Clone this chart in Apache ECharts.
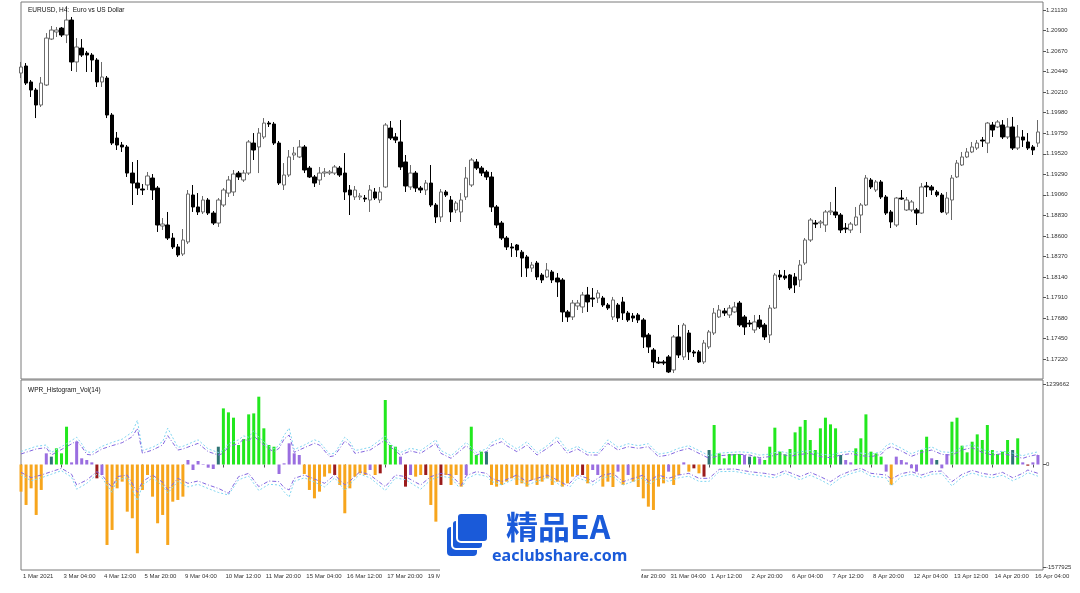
<!DOCTYPE html>
<html><head><meta charset="utf-8">
<script src="https://cdn.jsdelivr.net/npm/echarts@6/dist/echarts.min.js"></script>
<style>html,body{margin:0;padding:0;background:#fff}#c{width:1080px;height:593px}</style>
</head><body><div id="c"></div>
<script>
// ---------- DATA (EURUSD H4, first visible bar = 1 Mar 2021 20:00) ----------
const open = [
1.20424,1.20503,1.20324,1.20234,1.20066,1.2029,1.20805,1.20884,1.20928,1.2085,
1.21018,1.20548,1.20704,1.20648,1.20626,1.2057,1.20324,1.20368,1.19954,1.19696,
1.19618,1.19596,1.19304,1.19192,1.19125,1.1917,1.19248,1.19136,1.18711,1.18722,
1.18576,1.18476,1.18397,1.18532,1.19058,1.18924,1.18868,1.19002,1.18856,1.18744,
1.18946,1.1908,1.19092,1.19304,1.19226,1.19304,1.1964,1.19596,1.19708,1.19864,
1.19853,1.1964,1.1917,1.19282,1.19506,1.19484,1.19596,1.1936,1.1926,1.19226,
1.19304,1.19304,1.19304,1.1936,1.19304,1.19114,1.19036,1.19036,1.19024,1.19002,
1.19092,1.19002,1.19148,1.19808,1.19708,1.19652,1.19428,1.19148,1.19304,1.19136,
1.19114,1.19192,1.18946,1.18812,1.19092,1.19002,1.1889,1.18868,1.19036,1.1917,
1.19428,1.1936,1.19316,1.1926,1.18924,1.18744,1.18576,1.18476,1.18498,1.18418,
1.18364,1.1824,1.18296,1.18162,1.1814,1.18196,1.18128,1.18106,1.17748,1.17692,
1.17815,1.17804,1.17938,1.17904,1.17904,1.17904,1.17826,1.17692,1.17826,1.1786,
1.17736,1.17703,1.17714,1.17658,1.1749,1.17322,1.17188,1.17188,1.17244,1.17098,
1.17468,1.17244,1.17512,1.173,1.173,1.17188,1.17356,1.17512,1.17692,1.17759,
1.17714,1.17748,1.17848,1.17692,1.17624,1.17546,1.17658,1.17602,1.1749,1.17792,
1.18162,1.18151,1.18162,1.1814,1.18106,1.18296,1.18554,1.18744,1.18744,1.18722,
1.18868,1.18868,1.18834,1.18688,1.18666,1.18722,1.18834,1.18946,1.19226,1.19114,
1.19204,1.19036,1.18868,1.18722,1.19024,1.1889,1.1889,1.1889,1.18856,1.19159,
1.19148,1.19092,1.19058,1.18856,1.19002,1.1926,1.19394,1.19484,1.1954,1.19584,
1.19674,1.1964,1.19842,1.1982,1.19842,1.19708,1.1982,1.19584,1.19708,1.19652,
1.19596,1.1964];
const close = [
1.20492,1.20312,1.20234,1.20066,1.20312,1.20816,1.20906,1.20906,1.2085,1.21018,
1.20548,1.20716,1.20626,1.20626,1.2057,1.20324,1.2038,1.19954,1.1964,1.19618,
1.19596,1.19304,1.19192,1.19136,1.19114,1.19271,1.19114,1.18722,1.18733,1.18576,
1.18476,1.18386,1.18554,1.19069,1.18924,1.18868,1.19002,1.18856,1.18744,1.19002,
1.19114,1.19226,1.19293,1.1926,1.19304,1.19652,1.19562,1.19752,1.19864,1.19853,
1.1964,1.19192,1.19282,1.19484,1.19528,1.19596,1.19338,1.1926,1.19192,1.19304,
1.19316,1.19316,1.19372,1.19282,1.19092,1.19058,1.19114,1.19047,1.19013,1.19114,
1.19024,1.19092,1.19842,1.19696,1.19674,1.19372,1.19159,1.19304,1.19136,1.19114,
1.19192,1.18946,1.18812,1.19092,1.19058,1.18868,1.18968,1.19002,1.19248,1.1945,
1.1936,1.19304,1.1926,1.18924,1.18722,1.18576,1.18476,1.18464,1.18442,1.18352,
1.1824,1.18274,1.1814,1.18106,1.18218,1.18106,1.18084,1.17748,1.17692,1.17848,
1.17848,1.17938,1.1786,1.17893,1.1796,1.17826,1.17792,1.17882,1.1768,1.17736,
1.17658,1.1768,1.17658,1.17468,1.17356,1.17188,1.17176,1.17176,1.17076,1.17468,
1.17266,1.17602,1.173,1.17288,1.17188,1.174,1.17524,1.17736,1.1777,1.17736,
1.17792,1.17804,1.17602,1.1758,1.17613,1.17636,1.1758,1.17468,1.17792,1.18162,
1.1814,1.18128,1.18016,1.1805,1.18274,1.18554,1.18778,1.18733,1.18756,1.18868,
1.18879,1.18834,1.18666,1.18677,1.18733,1.18812,1.18946,1.19248,1.19148,1.19204,
1.19036,1.18856,1.18756,1.19024,1.19013,1.19002,1.1898,1.18856,1.19148,1.19148,
1.19114,1.19058,1.18868,1.19024,1.19248,1.19416,1.19484,1.1954,1.19596,1.1964,
1.19663,1.19864,1.19786,1.19876,1.19708,1.1982,1.19584,1.19708,1.19674,1.19584,
1.19562,1.19764];
const low = [
1.20368,1.2029,1.20156,1.1992,1.20044,1.20279,1.20794,1.20828,1.20828,1.2076,
1.20447,1.20436,1.20604,1.20436,1.20436,1.20268,1.20268,1.1992,1.19618,1.19562,
1.1954,1.1926,1.18946,1.19058,1.19058,1.19114,1.19002,1.18644,1.18666,1.18554,
1.18453,1.18364,1.18375,1.18509,1.18868,1.18834,1.18845,1.18834,1.18722,1.187,
1.18924,1.19036,1.19047,1.19226,1.19204,1.19282,1.1945,1.19304,1.19685,1.1982,
1.19618,1.1917,1.19114,1.1926,1.1945,1.19472,1.19304,1.19248,1.19148,1.1917,
1.1926,1.19282,1.19282,1.1926,1.19002,1.18834,1.19002,1.19002,1.1898,1.18868,
1.19002,1.18968,1.19136,1.19674,1.1964,1.19338,1.19092,1.19114,1.19092,1.1908,
1.19058,1.18924,1.18744,1.18756,1.19036,1.18756,1.18856,1.18756,1.19002,1.19148,
1.19338,1.19271,1.19226,1.18868,1.18688,1.18554,1.18442,1.18364,1.18364,1.1814,
1.1814,1.18196,1.18106,1.18072,1.18128,1.18072,1.17916,1.17636,1.17636,1.17658,
1.1777,1.17736,1.17748,1.17804,1.17848,1.17804,1.1777,1.17658,1.17636,1.17658,
1.17636,1.17636,1.17624,1.17344,1.17288,1.1712,1.17165,1.17154,1.17064,1.17064,
1.17232,1.1721,1.1721,1.17244,1.17176,1.17165,1.17333,1.1749,1.1768,1.17703,
1.1768,1.17736,1.1758,1.1749,1.1758,1.17512,1.17557,1.17434,1.174,1.17781,
1.18106,1.18106,1.17994,1.1796,1.18028,1.18274,1.18532,1.18688,1.18688,1.18644,
1.18834,1.188,1.18632,1.18632,1.18632,1.18711,1.18632,1.18935,1.19125,1.19092,
1.19013,1.18834,1.18688,1.187,1.19002,1.18879,1.18868,1.18722,1.18845,1.19036,
1.19058,1.19036,1.18856,1.18834,1.18778,1.19248,1.19383,1.19472,1.19528,1.19562,
1.19596,1.19528,1.19708,1.19808,1.19685,1.19685,1.19562,1.19562,1.19596,1.19562,
1.19506,1.19596];
const high = [
1.20548,1.20536,1.20346,1.20256,1.2038,1.20872,1.20951,1.2094,1.2094,1.21175,
1.21052,1.20816,1.20805,1.20671,1.20648,1.20592,1.20548,1.20391,1.19976,1.19764,
1.19652,1.19618,1.19428,1.1945,1.19181,1.19316,1.19293,1.19159,1.188,1.18868,
1.18632,1.18509,1.18677,1.19114,1.1917,1.1908,1.19047,1.19024,1.18879,1.19024,
1.19136,1.19271,1.19338,1.19327,1.19338,1.19674,1.19752,1.19808,1.1992,1.19887,
1.19876,1.19663,1.19416,1.19562,1.19596,1.19674,1.19618,1.19383,1.19282,1.19372,
1.1936,1.19338,1.19394,1.19383,1.19528,1.1917,1.19159,1.1908,1.19058,1.1917,
1.19136,1.19148,1.19864,1.19887,1.19752,1.19898,1.19506,1.19394,1.19327,1.19159,
1.19226,1.19394,1.18968,1.19125,1.19114,1.19047,1.18991,1.1908,1.19372,1.19472,
1.19461,1.19383,1.19338,1.19316,1.18946,1.18767,1.18599,1.1852,1.18509,1.18442,
1.18386,1.18308,1.18319,1.18184,1.18296,1.18218,1.18184,1.18128,1.1777,1.17882,
1.17882,1.17972,1.18028,1.18016,1.17994,1.17927,1.17848,1.17916,1.17848,1.17916,
1.17759,1.17736,1.17736,1.1768,1.17512,1.17344,1.17244,1.1721,1.17266,1.1749,
1.17602,1.17624,1.17546,1.17322,1.17322,1.17434,1.17546,1.17792,1.17826,1.17792,
1.17826,1.1786,1.17871,1.17714,1.17658,1.17714,1.17714,1.17624,1.17826,1.18184,
1.18218,1.18218,1.18173,1.18184,1.1833,1.18576,1.188,1.18778,1.18778,1.1889,
1.1898,1.19148,1.18856,1.18744,1.18756,1.18924,1.18968,1.19282,1.19248,1.19226,
1.19226,1.19058,1.1889,1.19036,1.19114,1.19036,1.19002,1.18912,1.19192,1.19204,
1.1917,1.19114,1.1908,1.19092,1.19282,1.1945,1.1954,1.19584,1.19652,1.19674,
1.19708,1.19876,1.19876,1.19898,1.19898,1.1992,1.19932,1.19842,1.19786,1.19752,
1.19618,1.19898];

// WPR histogram (values in thousands of volume units)
const wprHist = [
-418,-623,-367,-777,-392,172,121,249,172,582,
33,351,95,69,33,-213,-162,-1239,-1008,-367,
-264,-726,-828,-1367,-392,-162,-495,-905,-777,-1239,
-572,-546,-495,69,-85,54,-8,-49,-69,274,
864,803,721,300,392,772,787,1044,557,300,
274,-146,18,326,172,146,-146,-392,-521,-418,
-187,-136,-162,-315,-751,-367,-187,-136,-162,-85,
-162,-136,993,300,274,121,-341,-162,-187,-162,
-162,-623,-880,-315,-162,-315,-162,-341,-162,582,
146,198,198,-315,-341,-315,-264,-213,-315,-290,
-341,-239,-315,-264,-213,-315,-264,-341,-290,-187,
-162,-162,-290,-85,-162,-341,-264,-367,-110,-315,
-162,-264,-392,-521,-649,-700,-341,-290,-110,-315,
-162,33,-110,-59,-136,-187,223,608,172,95,
162,162,162,146,121,121,95,69,274,567,
198,156,239,495,582,685,377,223,557,721,
618,557,146,69,33,249,403,772,198,172,
121,-110,-315,121,69,33,-59,-110,223,428,
95,69,-59,156,659,721,290,187,351,464,
377,608,223,162,198,377,223,403,33,-18,
33,146];
// colour class of each histogram bar: g=green o=orange p=purple r=dark red t=teal
const wprClass = ("ooooo"+"ptggg"+"ppppp"+"rp"+"oooooooooooooooo"+"pppppp"+"t"+"ggggggggggg"+"ppppp"+"oooooo"+"r"+"oooooo"+"p"+"o"+"r"+"ggg"+"p"+"r"+"p"+"oo"+"r"+"oo"+"r"+"oooo"+"p"+"ggg"+"t"+"oooooooooooooooooo"+"r"+"o"+"pp"+"ooo"+"p"+"o"+"p"+"ooooooo"+"p"+"oo"+"p"+"o"+"r"+"o"+"r"+"t"+"gggggg"+"p"+"t"+"g"+"p"+"ggggggggggggggg"+"t"+"pp"+"gggggg"+"p"+"o"+"ppppp"+"gg"+"p"+"t"+"pp"+"gggggggggggg"+"t"+"g"+"p"+"r"+"pp").split('');

// band lines: [barIndex, value]
const upperPurple = [[0,162],[3,239],[5,259],[6,146],[9,274],[11,362],[12,274],[13,156],[14,146],[16,239],[18,290],[20,336],[22,428],[23,557],[24,172],[26,223],[28,300],[29,444],[31,223],[32,239],[35,326],[37,198],[39,146],[40,172],[41,274],[43,326],[44,387],[45,367],[46,439],[47,367],[49,239],[50,198],[51,249],[52,392],[53,454],[54,187],[56,259],[58,326],[59,300],[61,121],[62,136],[64,362],[65,300],[66,172],[67,187],[69,223],[71,326],[72,377],[73,274],[75,146],[77,208],[79,172],[82,326],[83,172],[85,95],[88,290],[90,146],[92,198],[93,290],[95,351],[96,290],[98,198],[100,300],[102,146],[104,249],[106,362],[108,172],[110,239],[112,146],[114,146],[116,326],[118,223],[120,274],[122,249],[124,274],[126,121],[128,146],[130,208],[132,249],[134,172],[136,95],[138,136],[140,146],[142,156],[144,146],[146,105],[148,121],[150,167],[152,126],[154,156],[156,172],[158,121],[160,105],[162,146],[164,167],[166,136],[168,121],[170,156],[171,239],[172,274],[174,208],[176,126],[178,187],[180,223],[182,156],[184,146],[186,223],[188,259],[190,187],[192,146],[194,167],[196,136],[198,95],[199,121],[201,156]];
const upperCyan = [[0,200],[3,280],[5,300],[6,185],[9,320],[11,420],[12,320],[13,195],[14,185],[16,280],[18,340],[20,390],[22,500],[23,680],[24,215],[26,265],[28,350],[29,560],[31,265],[32,280],[35,380],[37,240],[39,185],[40,215],[41,320],[43,380],[44,440],[45,420],[46,520],[47,420],[49,280],[50,240],[51,290],[52,450],[53,560],[54,230],[56,300],[58,380],[59,350],[61,160],[62,175],[64,420],[65,350],[66,215],[67,230],[69,265],[71,380],[72,440],[73,320],[75,185],[77,250],[79,215],[82,380],[83,215],[85,135],[88,340],[90,185],[92,240],[93,340],[95,410],[96,340],[98,240],[100,350],[102,185],[104,290],[106,430],[108,215],[110,280],[112,185],[114,185],[116,380],[118,265],[120,320],[122,290],[124,320],[126,160],[128,185],[130,250],[132,290],[134,215],[136,135],[138,175],[140,185],[142,195],[144,185],[146,145],[148,160],[150,205],[152,165],[154,195],[156,215],[158,160],[160,145],[162,185],[164,205],[166,175],[168,160],[170,195],[171,290],[172,330],[174,250],[176,165],[178,230],[180,270],[182,195],[184,185],[186,270],[188,305],[190,230],[192,185],[194,205],[196,175],[198,135],[199,160],[201,195]];
const lowerPurple = [[0,-121],[2,-203],[4,-162],[6,-110],[8,-59],[10,-151],[11,-315],[13,-239],[15,-110],[16,-162],[18,-356],[19,-187],[21,-162],[23,-428],[24,-264],[26,-162],[28,-274],[29,-392],[31,-213],[33,-290],[35,-254],[37,-315],[39,-367],[41,-444],[43,-187],[45,-136],[47,-341],[49,-254],[51,-264],[52,-356],[53,-392],[54,-213],[56,-162],[58,-223],[60,-290],[62,-162],[64,-315],[65,-254],[67,-110],[69,-162],[72,-341],[74,-162],[76,-187],[78,-274],[79,-315],[81,-187],[83,-136],[85,-162],[87,-326],[88,-172],[90,-110],[92,-136],[93,-213],[95,-264],[98,-162],[100,-264],[102,-213],[104,-162],[106,-239],[108,-326],[110,-162],[112,-213],[113,-264],[115,-162],[117,-136],[119,-264],[121,-213],[123,-162],[124,-264],[126,-162],[128,-213],[130,-162],[132,-136],[134,-213],[136,-213],[138,-74],[141,-69],[144,-110],[147,-136],[149,-162],[151,-95],[154,-187],[156,-121],[158,-187],[160,-264],[162,-162],[164,-100],[166,-59],[168,-136],[171,-162],[172,-223],[174,-141],[176,-110],[178,-162],[180,-110],[182,-100],[184,-264],[186,-151],[188,-90],[190,-136],[192,-162],[194,-121],[196,-203],[198,-136],[199,-85],[201,-136]];
const lowerCyan = [[0,-160],[2,-250],[4,-205],[6,-150],[8,-95],[10,-195],[11,-380],[13,-290],[15,-150],[16,-205],[18,-430],[19,-235],[21,-205],[23,-560],[24,-320],[26,-205],[28,-330],[29,-440],[31,-260],[33,-345],[35,-305],[37,-370],[39,-430],[41,-470],[43,-235],[45,-180],[47,-400],[49,-305],[51,-315],[52,-420],[53,-500],[54,-260],[56,-205],[58,-270],[60,-345],[62,-205],[64,-400],[65,-305],[67,-150],[69,-205],[72,-400],[74,-205],[76,-235],[78,-330],[79,-380],[81,-235],[83,-180],[85,-205],[87,-390],[88,-220],[90,-150],[92,-180],[93,-260],[95,-315],[98,-205],[100,-315],[102,-260],[104,-205],[106,-290],[108,-390],[110,-205],[112,-260],[113,-315],[115,-205],[117,-180],[119,-315],[121,-260],[123,-205],[124,-315],[126,-205],[128,-260],[130,-205],[132,-180],[134,-260],[136,-260],[138,-110],[141,-105],[144,-150],[147,-180],[149,-205],[151,-135],[154,-235],[156,-165],[158,-235],[160,-320],[162,-205],[164,-140],[166,-95],[168,-180],[171,-205],[172,-330],[174,-185],[176,-150],[178,-205],[180,-150],[182,-140],[184,-330],[186,-195],[188,-130],[190,-180],[192,-205],[194,-165],[196,-250],[198,-180],[199,-125],[201,-180]];

const priceTicks = [1.1722,1.1745,1.1768,1.1791,1.1814,1.1837,1.186,1.1883,1.1906,1.1929,1.1952,1.1975,1.1998,1.2021,1.2044,1.2067,1.209,1.2113];
const volTicks = [-1577.925, 0, 1239.662];
const xTickLabels = ["1 Mar 2021","3 Mar 04:00","4 Mar 12:00","5 Mar 20:00","9 Mar 04:00","10 Mar 12:00","11 Mar 20:00","15 Mar 04:00","16 Mar 12:00","17 Mar 20:00","19 Mar 04:00","22 Mar 12:00","23 Mar 20:00","25 Mar 04:00","26 Mar 12:00","29 Mar 20:00","31 Mar 04:00","1 Apr 12:00","2 Apr 20:00","6 Apr 04:00","7 Apr 12:00","8 Apr 20:00","12 Apr 04:00","13 Apr 12:00","14 Apr 20:00","16 Apr 04:00"];
const TICK_STEP = 8;

// ---------- categories: H4 bar times (weekdays only) ----------
const MON = ['Jan','Feb','Mar','Apr','May'];
function barTime(b){ const d=Math.floor(b/6), h=(b%6)*4; const cal=Math.floor(d/5)*7+d%5;
  const dt=new Date(Date.UTC(2021,2,1+cal)); return dt.getUTCDate()+' '+MON[dt.getUTCMonth()]+' '+String(h).padStart(2,'0')+':00'; }
const categories = []; for (let b=5;b<=207;b++) categories.push(barTime(b));

const classColor = {g:'#22e81e', o:'#f7a51c', p:'#9a6ee0', r:'#9b1b1b', t:'#2e7474'};
const candleData = open.map((o,i)=>[o, close[i], low[i], high[i]]);
const histData = wprHist.map((v,i)=>({value:v, itemStyle:{color:classColor[wprClass[i]]}}));

const FONT = 'Liberation Sans, Arial, sans-serif';
const chart = echarts.init(document.getElementById('c'), null, {renderer:'canvas'});
const bandLine = (data,color,type)=>({type:'line', xAxisIndex:1, yAxisIndex:1, data, symbol:'none', z:5,
  connectNulls:true, lineStyle:{color, width:1, type}, silent:true});

chart.setOption({
  animation:false,
  backgroundColor:'#ffffff',
  textStyle:{fontFamily:FONT},
  title:[
    {text:'EURUSD, H4:  Euro vs US Dollar', left:23, top:2, textStyle:{fontSize:6.5, fontWeight:'normal', color:'#111', fontFamily:FONT}},
    {text:'WPR_Histogram_Vol(14)', left:23, top:382, textStyle:{fontSize:6.5, fontWeight:'normal', color:'#111', fontFamily:FONT}}
  ],
  grid:[
    {left:21, right:37, top:2, height:377, show:true, borderColor:'#7a7a7a', borderWidth:1},
    {left:21, right:37, top:380, height:190, show:true, borderColor:'#7a7a7a', borderWidth:1}
  ],
  xAxis:[
    {type:'category', gridIndex:0, data:categories, boundaryGap:false,
     axisLine:{show:false}, axisTick:{show:false}, axisLabel:{show:false}, splitLine:{show:false}},
    {type:'category', gridIndex:1, data:categories, boundaryGap:false,
     axisLine:{show:false},
     axisTick:{show:true, interval:(i)=>i%TICK_STEP===0, length:3, lineStyle:{color:'#555'}},
     axisLabel:{interval:(i)=>i%TICK_STEP===0, formatter:(v,i)=>xTickLabels[i/TICK_STEP]||'',
       fontSize:6, color:'#333', align:'left', margin:3, padding:[0,0,0,2], fontFamily:FONT},
     splitLine:{show:false}}
  ],
  yAxis:[
    {type:'value', gridIndex:0, position:'right', min:1.16997, max:1.2122, scale:true,
     splitLine:{show:false}, axisLine:{show:false},
     axisTick:{show:true, customValues:priceTicks, length:3, lineStyle:{color:'#555'}},
     axisLabel:{customValues:priceTicks, formatter:(v)=>v.toFixed(5), fontSize:6, color:'#333', margin:3, fontFamily:FONT}},
    {type:'value', gridIndex:1, position:'right', min:-1624.4, max:1301.1,
     splitLine:{show:false}, axisLine:{show:false},
     axisTick:{show:true, customValues:volTicks, length:3, lineStyle:{color:'#555'}},
     axisLabel:{customValues:volTicks, formatter:(v)=>String(Math.round(v*1000)), fontSize:6, color:'#333', margin:3, fontFamily:FONT}}
  ],
  series:[
    {type:'candlestick', xAxisIndex:0, yAxisIndex:0, data:candleData, barWidth:4,
     itemStyle:{color:'#ffffff', color0:'#000000', borderColor:'#6a6a6a', borderColor0:'#000000', borderWidth:1}},
    {type:'bar', xAxisIndex:1, yAxisIndex:1, data:histData, barWidth:3, z:2},
    bandLine(upperCyan,'#7fd6f2',[2,2]),
    bandLine(lowerCyan,'#7fd6f2',[2,2]),
    bandLine(upperPurple,'#8467e0',[4,2,1,2]),
    bandLine(lowerPurple,'#8467e0',[4,2,1,2])
  ],
  graphic:[
    {type:'rect', z:100, shape:{x:440, y:487, width:201, height:106}, style:{fill:'#ffffff'}},
    {type:'rect', z:101, shape:{x:447, y:527, width:30, height:29, r:4}, style:{fill:'#1a5ad9'}},
    {type:'rect', z:102, shape:{x:452, y:520, width:31, height:29, r:4}, style:{fill:'#1a5ad9', stroke:'#ffffff', lineWidth:2}},
    {type:'rect', z:103, shape:{x:457, y:513, width:31, height:29, r:4}, style:{fill:'#1a5ad9', stroke:'#ffffff', lineWidth:2}},
    {type:'text', z:104, x:506, y:527, style:{text:'精品EA', fill:'#1a5ad9', font:'bold 32px "Noto Sans CJK SC", sans-serif', verticalAlign:'middle'}},
    {type:'text', z:104, x:492, y:556, style:{text:'eaclubshare.com', fill:'#1a5ad9', font:'bold 16px "Noto Sans", "DejaVu Sans", sans-serif', verticalAlign:'middle'}}
  ]
});
</script></body></html>
